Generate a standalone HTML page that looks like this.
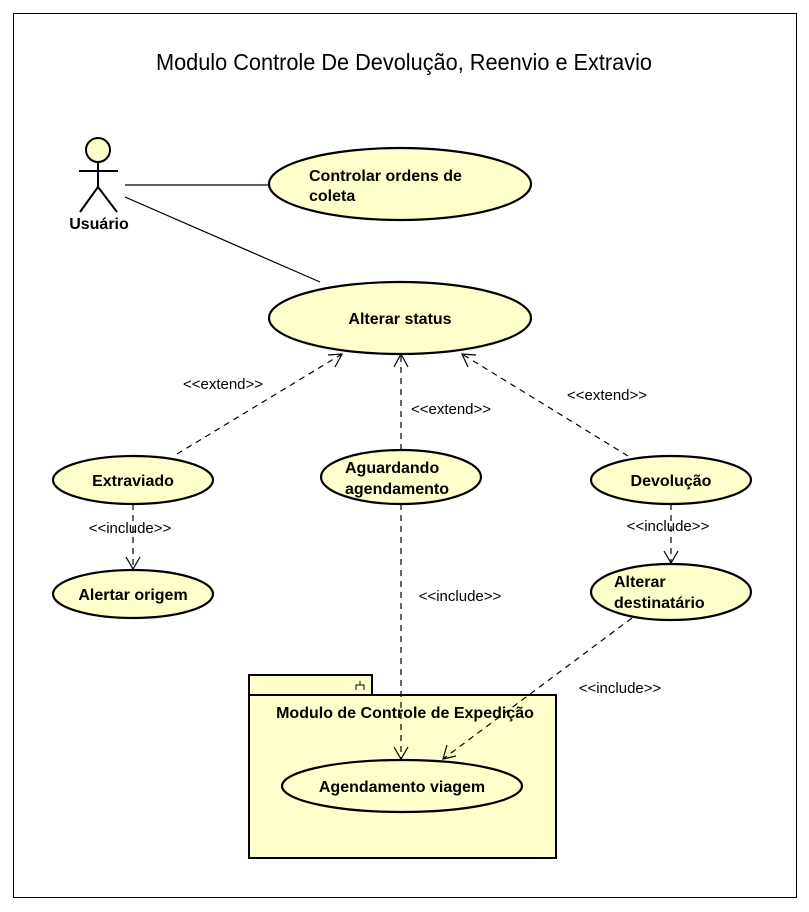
<!DOCTYPE html>
<html><head><meta charset="utf-8"><style>
html,body{margin:0;padding:0;background:#fff;}
svg{display:block;}
.b{font-family:"Liberation Sans",sans-serif;font-weight:bold;font-size:16px;fill:#000;}
.s{font-family:"Liberation Sans",sans-serif;font-size:15px;fill:#000;}
</style></head><body>
<svg width="809" height="912" viewBox="0 0 809 912" xmlns="http://www.w3.org/2000/svg">
<rect x="13.5" y="13.5" width="783" height="884" fill="#fff" stroke="#000" stroke-width="1"/>
<text x="404" y="70" text-anchor="middle" font-family="Liberation Sans, sans-serif" font-size="23" textLength="496" lengthAdjust="spacingAndGlyphs">Modulo Controle De Devolução, Reenvio e Extravio</text>
<g stroke="#000" stroke-width="2" fill="none">
<circle cx="98" cy="150" r="12" fill="#ffffcc"/>
<line x1="98" y1="162" x2="98" y2="187"/>
<line x1="79" y1="171" x2="118" y2="171"/>
<line x1="98" y1="187" x2="80" y2="212"/>
<line x1="98" y1="187" x2="117" y2="212"/>
</g>
<text x="99" y="229" text-anchor="middle" class="b">Usuário</text>
<g stroke="#000" stroke-width="1.2" fill="none">
<line x1="125" y1="185" x2="270" y2="185"/>
<line x1="125" y1="197" x2="320" y2="282"/>
</g>
<g stroke="#000" stroke-width="2" fill="#ffffcc">
<rect x="249" y="675" width="123" height="20"/>
<rect x="249" y="695" width="307" height="163"/>
</g>
<path d="M356 690 v-5 h8 v5 M360 685 v-4" stroke="#000" stroke-width="1" fill="none"/>
<text x="405" y="718" text-anchor="middle" class="b">Modulo de Controle de Expedição</text>
<g stroke="#000" stroke-width="2.2" fill="#ffffcc">
<ellipse cx="400" cy="184" rx="131" ry="36"/>
<ellipse cx="400" cy="318" rx="131" ry="36"/>
<ellipse cx="133" cy="480" rx="80" ry="24"/>
<ellipse cx="401" cy="477" rx="80" ry="27"/>
<ellipse cx="671" cy="480" rx="80" ry="24"/>
<ellipse cx="133" cy="594" rx="80" ry="24"/>
<ellipse cx="671" cy="592" rx="80" ry="28"/>
<ellipse cx="402" cy="786" rx="120" ry="26"/>
</g>
<text x="309" y="181" class="b">Controlar ordens de</text>
<text x="309" y="201" class="b">coleta</text>
<text x="400" y="324" text-anchor="middle" class="b">Alterar status</text>
<text x="133" y="486" text-anchor="middle" class="b">Extraviado</text>
<text x="345" y="473" class="b">Aguardando</text>
<text x="345" y="494" class="b">agendamento</text>
<text x="671" y="486" text-anchor="middle" class="b">Devolução</text>
<text x="133" y="600" text-anchor="middle" class="b">Alertar origem</text>
<text x="614" y="587" class="b">Alterar</text>
<text x="614" y="608" class="b">destinatário</text>
<text x="402" y="792" text-anchor="middle" class="b">Agendamento viagem</text>
<g stroke="#000" stroke-width="1.2" fill="none" stroke-dasharray="6,5">
<line x1="177" y1="454" x2="342" y2="354"/>
<line x1="401" y1="450" x2="401" y2="354"/>
<line x1="628" y1="456" x2="462" y2="354"/>
<line x1="133" y1="504" x2="133" y2="569"/>
<line x1="671" y1="504" x2="671" y2="563"/>
<line x1="401" y1="504" x2="401" y2="759"/>
<line x1="632" y1="618" x2="443" y2="759"/>
</g>
<g stroke="#000" stroke-width="1.2" fill="none">
<path d="M328 355 L342 354 L335 367"/>
<path d="M394 367 L401 354 L408 367"/>
<path d="M468 367 L462 354 L476 355"/>
<path d="M126 557 L133 569 L140 557"/>
<path d="M664 551 L671 563 L678 551"/>
<path d="M394 747 L401 759 L408 747"/>
<path d="M447 745 L443 759 L456 756"/>
</g>
<text x="223" y="389" text-anchor="middle" class="s">&lt;&lt;extend&gt;&gt;</text>
<text x="451" y="414" text-anchor="middle" class="s">&lt;&lt;extend&gt;&gt;</text>
<text x="607" y="400" text-anchor="middle" class="s">&lt;&lt;extend&gt;&gt;</text>
<text x="130" y="533" text-anchor="middle" class="s">&lt;&lt;include&gt;&gt;</text>
<text x="668" y="531" text-anchor="middle" class="s">&lt;&lt;include&gt;&gt;</text>
<text x="460" y="601" text-anchor="middle" class="s">&lt;&lt;include&gt;&gt;</text>
<text x="620" y="693" text-anchor="middle" class="s">&lt;&lt;include&gt;&gt;</text>
</svg>
</body></html>
